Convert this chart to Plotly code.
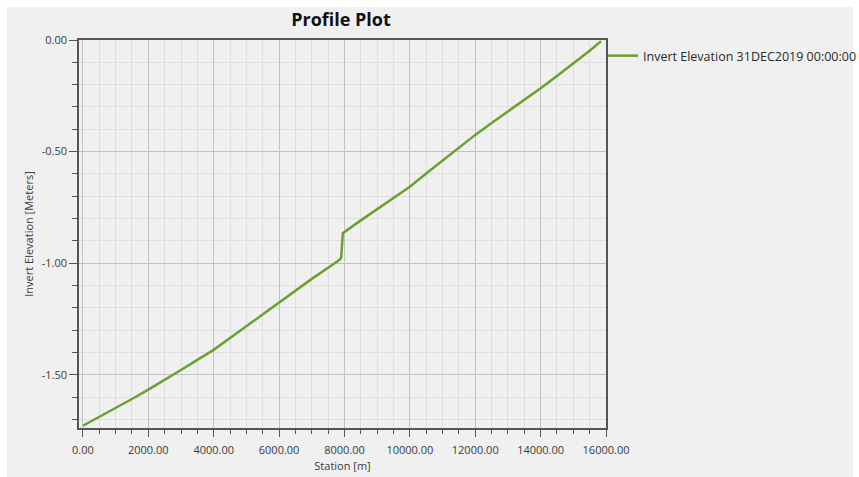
import plotly.graph_objects as go

# Data
stations = [0, 500, 1000, 1500, 2000, 2500, 3000, 3500, 4000, 4500, 5000, 5500,
            6000, 6500, 7000, 7500, 7850, 7900, 7950, 8500, 9000, 9500, 10000,
            10500, 11000, 11500, 12000, 12500, 13000, 13500, 14000, 14500,
            15000, 15500, 15850]
invert_elev = [-1.728, -1.689, -1.650, -1.608, -1.566, -1.523, -1.478, -1.433,
               -1.388, -1.335, -1.282, -1.225, -1.172, -1.122, -1.070, -1.020,
               -0.985, -0.975, -0.865, -0.808, -0.757, -0.705, -0.657, -0.598,
               -0.540, -0.482, -0.425, -0.372, -0.320, -0.270, -0.216, -0.161,
               -0.105, -0.048, -0.005]
series_name = "Invert Elevation 31DEC2019 00:00:00"
x_ticks = [0, 2000, 4000, 6000, 8000, 10000, 12000, 14000, 16000]
x_tick_labels = ["0.00", "2000.00", "4000.00", "6000.00", "8000.00",
                 "10000.00", "12000.00", "14000.00", "16000.00"]
y_ticks = [0.0, -0.5, -1.0, -1.5]
y_tick_labels = ["0.00", "-0.50", "-1.00", "-1.50"]

W, H = 859, 477
L, R, T, B = 79, 606, 40, 428
pw, ph = R - L, B - T

FONT = "Open Sans, Noto Sans, sans-serif"

fig = go.Figure()
fig.add_trace(go.Scatter(
    x=stations, y=invert_elev, mode="lines", name=series_name,
    line=dict(color="#6aa12e", width=2.5), showlegend=True,
))

axis_common = dict(
    showline=True, linecolor="#555555", linewidth=1.5, mirror=True,
    ticks="outside", tickcolor="#555555", tickwidth=1.2,
    showgrid=True, gridcolor="#c2c2c2", gridwidth=1,
    zeroline=False,
    tickfont=dict(family=FONT, size=11, color="#3a3a3a"),
)

fig.update_xaxes(
    **axis_common,
    range=[-120, 16000],
    tickvals=x_ticks, ticktext=x_tick_labels, ticklen=7,
    ticklabelstandoff=4,
    minor=dict(dtick=500, tick0=0, ticks="outside", ticklen=4,
               tickcolor="#555555", showgrid=True, gridcolor="#dfdfdf",
               gridwidth=1),
    title=dict(text="Station [m]", font=dict(family=FONT, size=11, color="#3a3a3a"),
               standoff=6),
)
fig.update_yaxes(
    **axis_common,
    range=[-1.738, 0.0],
    tickvals=y_ticks, ticktext=y_tick_labels, ticklen=8,
    minor=dict(dtick=0.1, tick0=0, ticks="outside", ticklen=5,
               tickcolor="#555555", showgrid=True, gridcolor="#dfdfdf",
               gridwidth=1),
    title=dict(text="Invert Elevation [Meters]",
               font=dict(family=FONT, size=11, color="#3a3a3a"), standoff=6),
)


def px_x(p):
    """page x pixel -> paper fraction"""
    return (p - L) / pw


def px_y(p):
    """page y pixel -> paper fraction"""
    return (B - p) / ph


# grey panel behind the chart, white border around it
fig.add_shape(type="rect", xref="paper", yref="paper", layer="below",
              x0=px_x(7), x1=px_x(853), y0=px_y(477), y1=px_y(7),
              fillcolor="#f0f0f0", line=dict(width=0))

fig.update_layout(
    width=W, height=H,
    margin=dict(l=L, r=W - R, t=T, b=H - B, autoexpand=False),
    paper_bgcolor="white", plot_bgcolor="#f0f0f0",
    title=dict(text="<b>Profile Plot</b>", x=341 / W, xanchor="center",
               y=1 - 20 / H, yanchor="middle",
               font=dict(family=FONT, size=18, color="#111111")),
    legend=dict(x=px_x(603), y=px_y(41), xanchor="left", yanchor="top",
                bgcolor="rgba(0,0,0,0)", borderwidth=0,
                font=dict(family=FONT, size=12.5, color="#2a2a2a"),
                itemwidth=30),
    font=dict(family=FONT),
)

fig.write_html(
    "out.html",
    config={"displayModeBar": False},
    post_script="document.body.style.margin='0';"
                "document.documentElement.style.overflow='hidden';",
)
